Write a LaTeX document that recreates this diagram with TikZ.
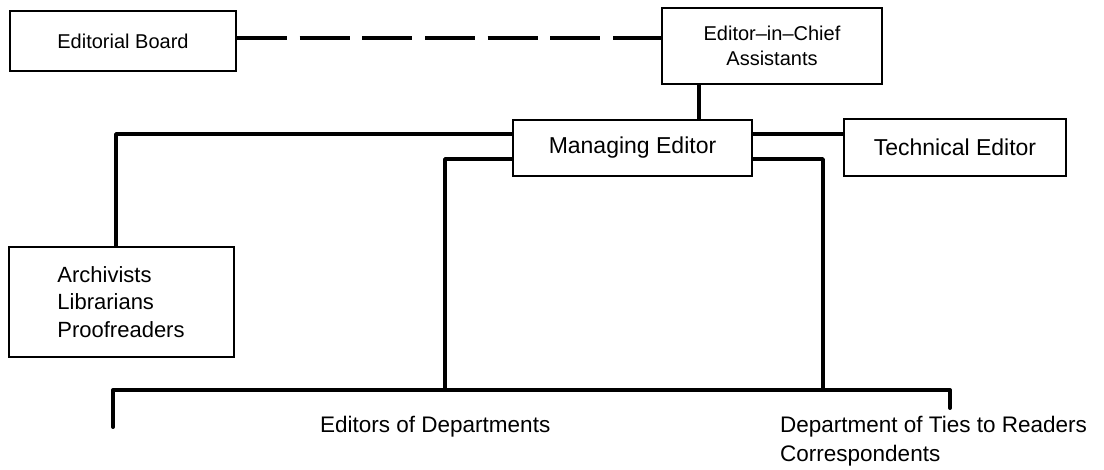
\documentclass[tikz,border=0pt]{standalone}
\usepackage{fontspec}
\setmainfont{Liberation Sans}
\begin{document}
\begin{tikzpicture}[x=1pt,y=-1pt,
  box/.style={draw, line width=2pt, rectangle, inner sep=0pt, align=center,
    font=\fontsize{22}{27.5}\selectfont},
  bigbox/.style={box, font=\fontsize{23}{28}\selectfont},
  smallbox/.style={box, font=\fontsize{20}{25}\selectfont},
  conn/.style={line width=3.5pt, line join=round},
  busline/.style={line width=4pt, line cap=round, line join=round},
  dashline/.style={line width=4pt, dash pattern=on 50pt off 12.67pt},
  lbl/.style={inner sep=0pt, anchor=base west, font=\fontsize{22.5}{28}\selectfont}]
\useasboundingbox (0,0) rectangle (1104,470);

% boxes
\node[smallbox, minimum width=226pt, minimum height=60pt] (eb) at (123,41) {Editorial Board};
\node[smallbox, minimum width=220pt, minimum height=76pt] (eic) at (772,46) {Editor–in–Chief\\Assistants};
\node[bigbox, minimum width=239pt, minimum height=56pt] (me) at (632.5,148) {Managing Editor};
\node[bigbox, minimum width=222pt, minimum height=57pt] (te) at (955,147.5) {Technical Editor};
\node[box, minimum width=225pt, minimum height=110pt, align=left] (arch) at (121,302) {Archivists\\Librarians\\Proofreaders};

% free labels
\node[lbl] (ed) at (320,432) {Editors of Departments};
\node[lbl] (dt) at (780,433) {Department of Ties to Readers};
\node[lbl] (co) at (780,461) {Correspondents};

% bus coordinates
\coordinate (jl) at (445,390);
\coordinate (jr) at (823,390);
\coordinate (bl) at (113,390);
\coordinate (br) at (950,390);
\coordinate (blend) at (113,427);
\coordinate (brend) at (950,408);

% connectors
\draw[dashline] ([yshift=3pt]eb.east) -- ([yshift=3pt]eb.east -| eic.west);
\draw[conn] ([xshift=-73pt]eic.south) -- ([xshift=-73pt]eic.south |- me.north);
\draw[conn] ([yshift=14pt]me.east) -- ([yshift=14pt]me.east -| te.west);
\draw[conn] ([yshift=14pt]me.west) -| ([xshift=-5pt]arch.north);
\draw[conn] ([yshift=-11pt]me.west) -| (jl);
\draw[conn] ([yshift=-11pt]me.east) -| (jr);
\draw[busline] (blend) -- (bl) -- (br) -- (brend);
\end{tikzpicture}
\end{document}
